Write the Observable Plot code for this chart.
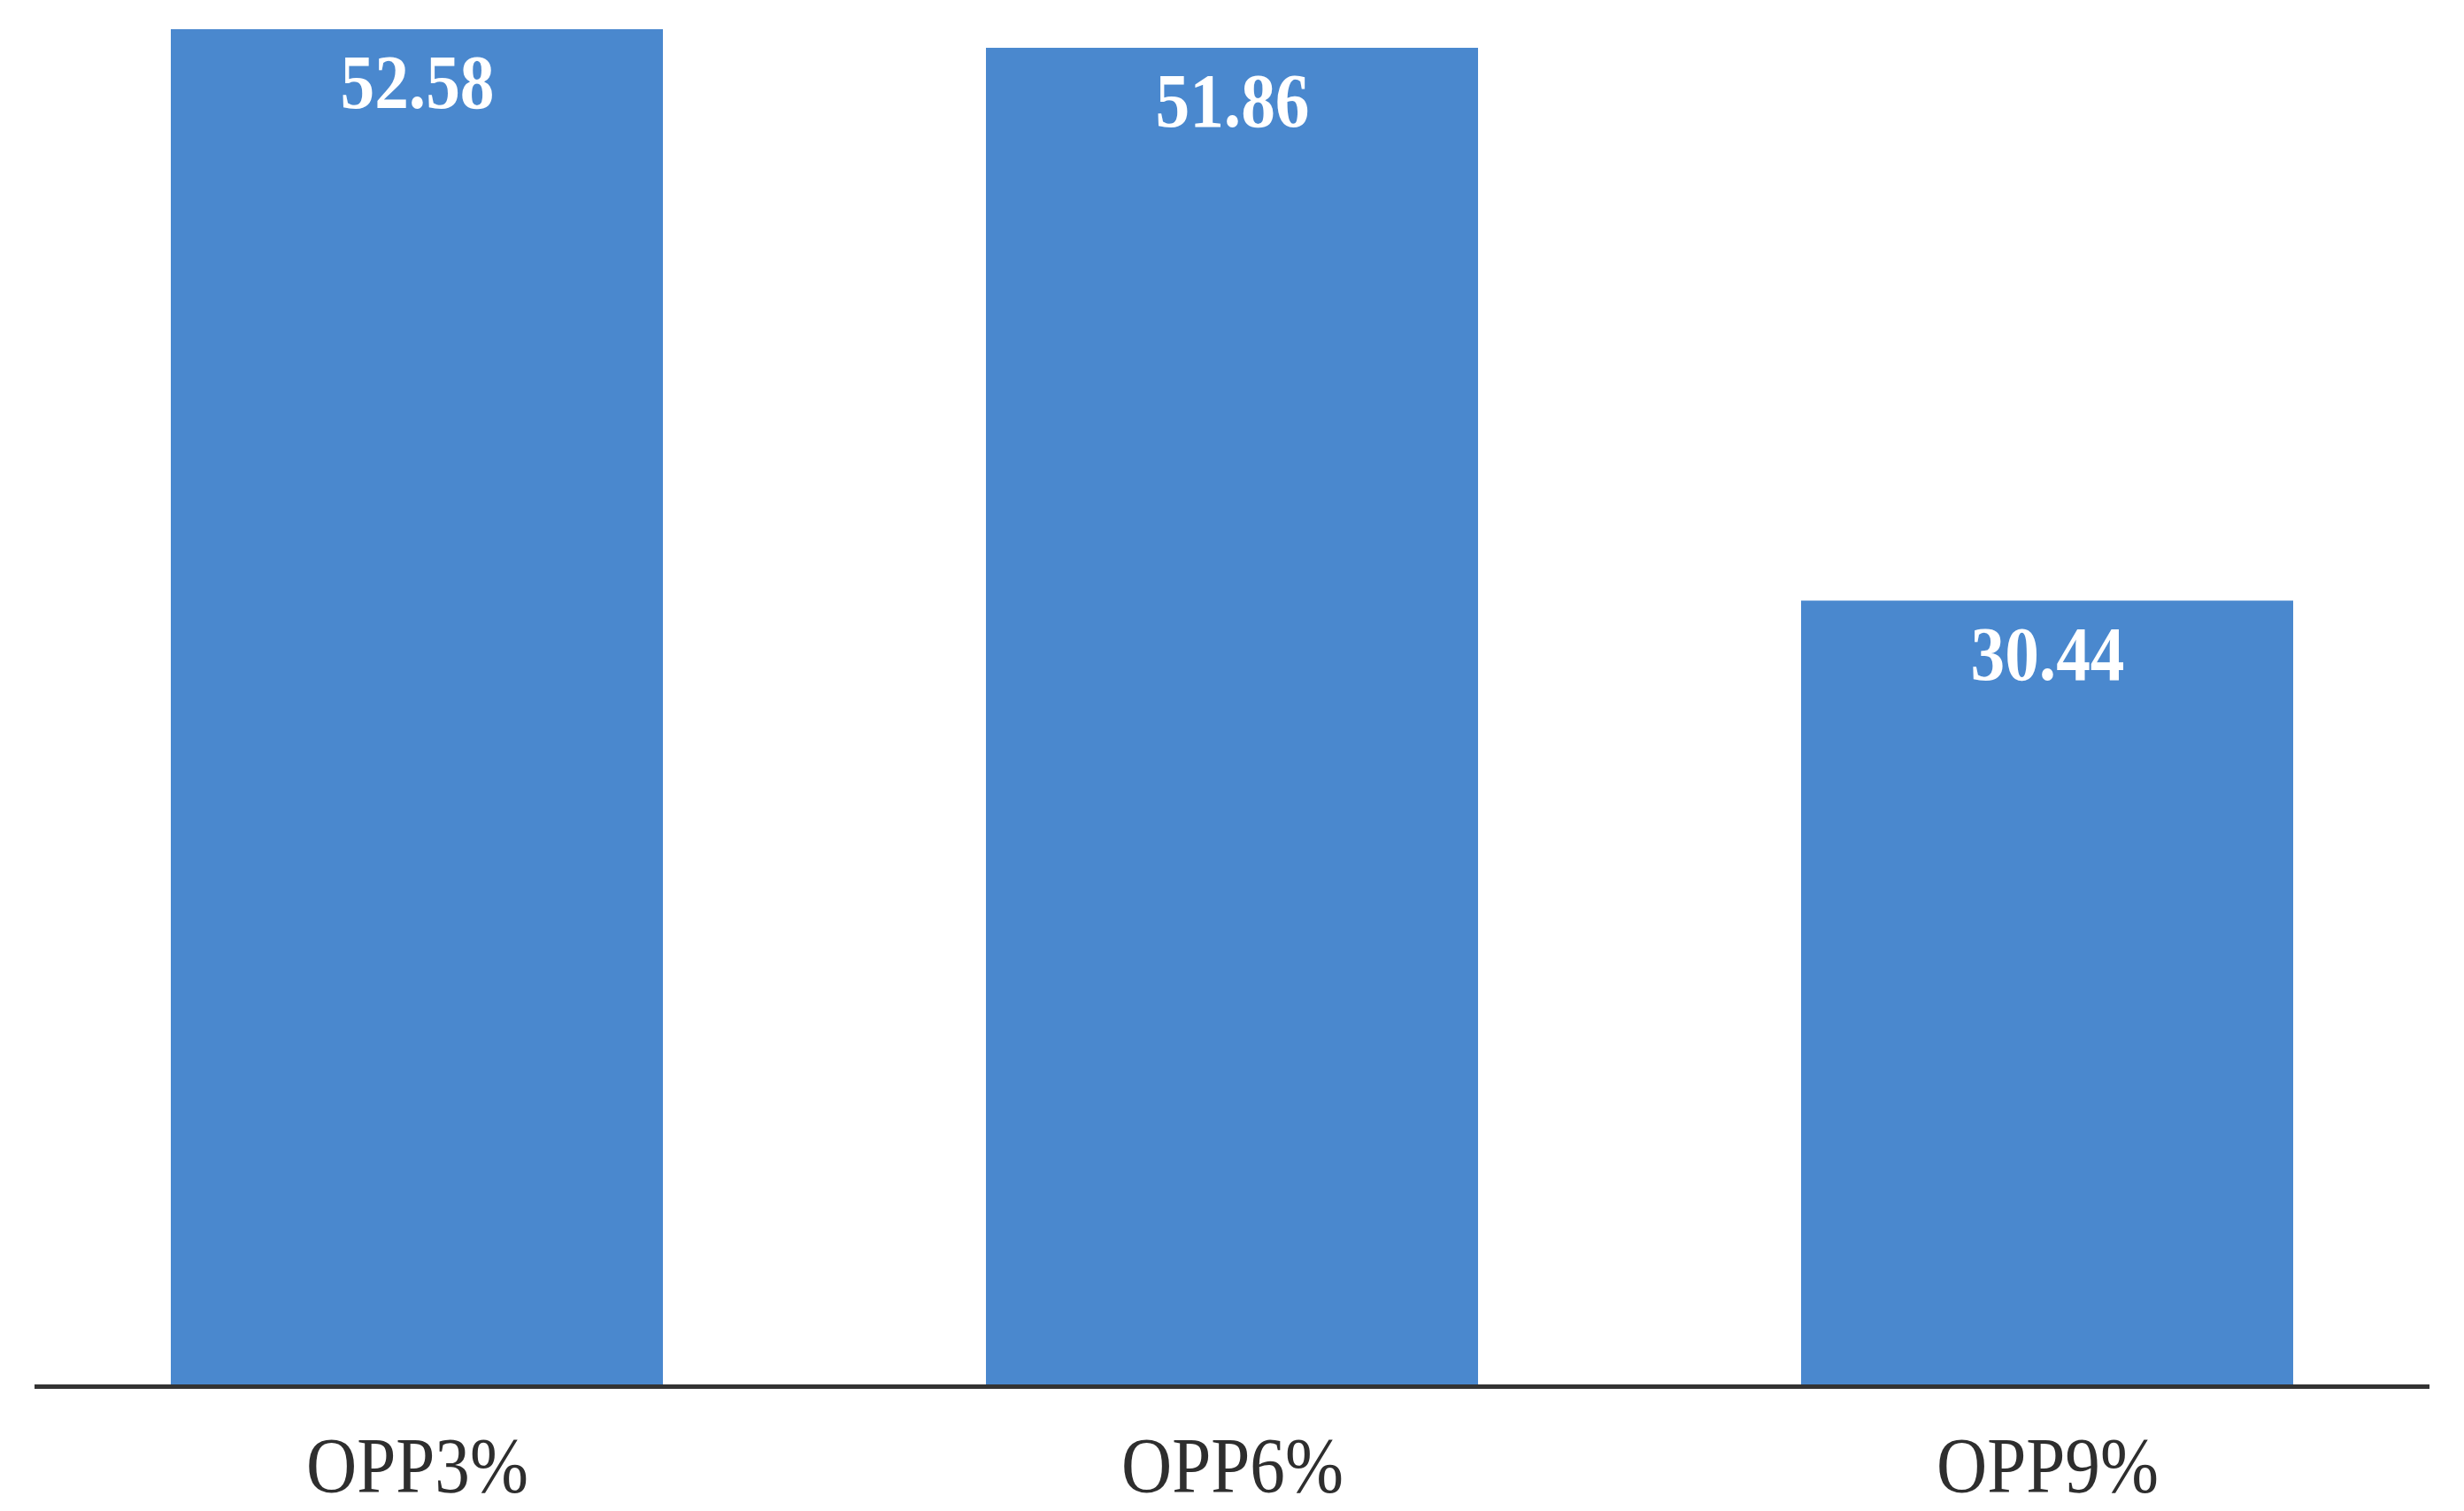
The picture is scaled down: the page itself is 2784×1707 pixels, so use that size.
<!DOCTYPE html>
<html>
<head>
<meta charset="utf-8">
<script src="https://cdn.jsdelivr.net/npm/d3@7"></script>
<script src="https://cdn.jsdelivr.net/npm/@observablehq/plot@0.6"></script>
<style>
  html, body { margin: 0; padding: 0; background: #ffffff; overflow: hidden; }
  #chart svg { display: block; }
</style>
</head>
<body>
<div id="chart"></div>
<script>
const categories = ["OPP3%", "OPP6%", "OPP9%"];
const values = [52.58, 51.86, 30.44];
const valueLabels = ["52.58", "51.86", "30.44"];

const data = categories.map((c, i) => ({category: c, value: values[i], label: valueLabels[i]}));
const serif = "'Liberation Serif', 'Times New Roman', serif";

const chart = Plot.plot({
  width: 2784,
  height: 1707,
  marginTop: 33,
  marginBottom: 141,
  marginLeft: 39,
  marginRight: 39,
  style: {background: "#ffffff", fontFamily: serif},
  x: {domain: categories, paddingInner: 0.396, paddingOuter: 0.166, label: null},
  y: {domain: [0, 52.58], axis: null},
  marks: [
    Plot.barY(data, {x: "category", y: "value", fill: "#4a88ce"}),
    Plot.ruleY([0], {stroke: "#333333", strokeWidth: 5}),
    Plot.text(data, {
      x: "category", y: "value", text: "label", dy: 61,
      fill: "#ffffff", fontSize: 86, fontWeight: "bold",
      fontFamily: serif
    }),
    Plot.axisX({
      tickSize: 0, tickPadding: 56, fontSize: 88, label: null,
      fill: "#2e2e2e",
      fontFamily: serif
    })
  ]
});

// Condense text horizontally around its anchor, as in the reference
chart.querySelectorAll("text").forEach(t => {
  const x = +(t.getAttribute("x") || 0);
  const tr = t.getAttribute("transform") || "";
  t.setAttribute("transform", `${tr} translate(${x},0) scale(0.9,1) translate(${-x},0)`.trim());
});

document.getElementById("chart").appendChild(chart);
</script>
</body>
</html>
